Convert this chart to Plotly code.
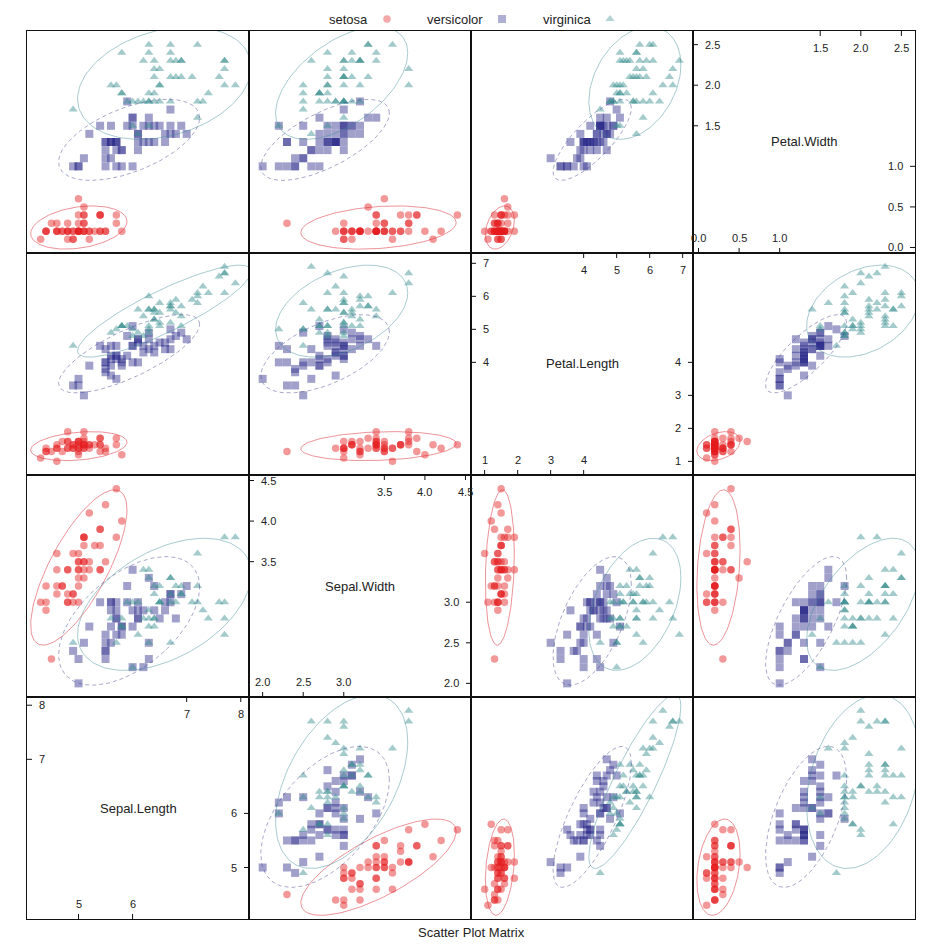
import numpy as np
import plotly.graph_objects as go

# ---------------- data (iris) ----------------
species_names = ["setosa", "versicolor", "virginica"]
species_counts = [50, 50, 50]

sepal_length = [5.1,4.9,4.7,4.6,5.0,5.4,4.6,5.0,4.4,4.9,5.4,4.8,4.8,4.3,5.8,5.7,5.4,5.1,5.7,5.1,
                5.4,5.1,4.6,5.1,4.8,5.0,5.0,5.2,5.2,4.7,4.8,5.4,5.2,5.5,4.9,5.0,5.5,4.9,4.4,5.1,
                5.0,4.5,4.4,5.0,5.1,4.8,5.1,4.6,5.3,5.0,
                7.0,6.4,6.9,5.5,6.5,5.7,6.3,4.9,6.6,5.2,5.0,5.9,6.0,6.1,5.6,6.7,5.6,5.8,6.2,5.6,
                5.9,6.1,6.3,6.1,6.4,6.6,6.8,6.7,6.0,5.7,5.5,5.5,5.8,6.0,5.4,6.0,6.7,6.3,5.6,5.5,
                5.5,6.1,5.8,5.0,5.6,5.7,5.7,6.2,5.1,5.7,
                6.3,5.8,7.1,6.3,6.5,7.6,4.9,7.3,6.7,7.2,6.5,6.4,6.8,5.7,5.8,6.4,6.5,7.7,7.7,6.0,
                6.9,5.6,7.7,6.3,6.7,7.2,6.2,6.1,6.4,7.2,7.4,7.9,6.4,6.3,6.1,7.7,6.3,6.4,6.0,6.9,
                6.7,6.9,5.8,6.8,6.7,6.7,6.3,6.5,6.2,5.9]
sepal_width = [3.5,3.0,3.2,3.1,3.6,3.9,3.4,3.4,2.9,3.1,3.7,3.4,3.0,3.0,4.0,4.4,3.9,3.5,3.8,3.8,
               3.4,3.7,3.6,3.3,3.4,3.0,3.4,3.5,3.4,3.2,3.1,3.4,4.1,4.2,3.1,3.2,3.5,3.6,3.0,3.4,
               3.5,2.3,3.2,3.5,3.8,3.0,3.8,3.2,3.7,3.3,
               3.2,3.2,3.1,2.3,2.8,2.8,3.3,2.4,2.9,2.7,2.0,3.0,2.2,2.9,2.9,3.1,3.0,2.7,2.2,2.5,
               3.2,2.8,2.5,2.8,2.9,3.0,2.8,3.0,2.9,2.6,2.4,2.4,2.7,2.7,3.0,3.4,3.1,2.3,3.0,2.5,
               2.6,3.0,2.6,2.3,2.7,3.0,2.9,2.9,2.5,2.8,
               3.3,2.7,3.0,2.9,3.0,3.0,2.5,2.9,2.5,3.6,3.2,2.7,3.0,2.5,2.8,3.2,3.0,3.8,2.6,2.2,
               3.2,2.8,2.8,2.7,3.3,3.2,2.8,3.0,2.8,3.0,2.8,3.8,2.8,2.8,2.6,3.0,3.4,3.1,3.0,3.1,
               3.1,3.1,2.7,3.2,3.3,3.0,2.5,3.0,3.4,3.0]
petal_length = [1.4,1.4,1.3,1.5,1.4,1.7,1.4,1.5,1.4,1.5,1.5,1.6,1.4,1.1,1.2,1.5,1.3,1.4,1.7,1.5,
                1.7,1.5,1.0,1.7,1.9,1.6,1.6,1.5,1.4,1.6,1.6,1.5,1.5,1.4,1.5,1.2,1.3,1.4,1.3,1.5,
                1.3,1.3,1.3,1.6,1.9,1.4,1.6,1.4,1.5,1.4,
                4.7,4.5,4.9,4.0,4.6,4.5,4.7,3.3,4.6,3.9,3.5,4.2,4.0,4.7,3.6,4.4,4.5,4.1,4.5,3.9,
                4.8,4.0,4.9,4.7,4.3,4.4,4.8,5.0,4.5,3.5,3.8,3.7,3.9,5.1,4.5,4.5,4.7,4.4,4.1,4.0,
                4.4,4.6,4.0,3.3,4.2,4.2,4.2,4.3,3.0,4.1,
                6.0,5.1,5.9,5.6,5.8,6.6,4.5,6.3,5.8,6.1,5.1,5.3,5.5,5.0,5.1,5.3,5.5,6.7,6.9,5.0,
                5.7,4.9,6.7,4.9,5.7,6.0,4.8,4.9,5.6,5.8,6.1,6.4,5.6,5.1,5.6,6.1,5.6,5.5,4.8,5.4,
                5.6,5.1,5.1,5.9,5.7,5.2,5.0,5.2,5.4,5.1]
petal_width = [0.2,0.2,0.2,0.2,0.2,0.4,0.3,0.2,0.2,0.1,0.2,0.2,0.1,0.1,0.2,0.4,0.4,0.3,0.3,0.3,
               0.2,0.4,0.2,0.5,0.2,0.2,0.4,0.2,0.2,0.2,0.2,0.4,0.1,0.2,0.2,0.2,0.2,0.1,0.2,0.2,
               0.3,0.3,0.2,0.6,0.4,0.3,0.2,0.2,0.2,0.2,
               1.4,1.5,1.5,1.3,1.5,1.3,1.6,1.0,1.3,1.4,1.0,1.5,1.0,1.4,1.3,1.4,1.5,1.0,1.5,1.1,
               1.8,1.3,1.5,1.2,1.3,1.4,1.4,1.7,1.5,1.0,1.1,1.0,1.2,1.6,1.5,1.6,1.5,1.3,1.3,1.3,
               1.2,1.4,1.2,1.0,1.3,1.2,1.3,1.3,1.1,1.3,
               2.5,1.9,2.1,1.8,2.2,2.1,1.7,1.8,1.8,2.5,2.0,1.9,2.1,2.0,2.4,2.3,1.8,2.2,2.3,1.5,
               2.3,2.0,2.0,1.8,2.1,1.8,1.8,1.8,2.1,1.6,1.9,2.0,2.2,1.5,1.4,2.3,2.4,1.8,1.8,2.1,
               2.4,2.3,1.9,2.3,2.5,2.3,1.9,2.0,2.3,1.8]

var_names = ["Sepal.Length", "Sepal.Width", "Petal.Length", "Petal.Width"]
lower_ticks = [[5, 6], [2.0, 2.5, 3.0], [1, 2, 3, 4], [0.0, 0.5, 1.0]]
upper_ticks = [[7, 8], [3.5, 4.0, 4.5], [4, 5, 6, 7], [1.5, 2.0, 2.5]]
lower_labels = [["5", "6"], ["2.0", "2.5", "3.0"], ["1", "2", "3", "4"], ["0.0", "0.5", "1.0"]]
upper_labels = [["7", "8"], ["3.5", "4.0", "4.5"], ["4", "5", "6", "7"], ["1.5", "2.0", "2.5"]]

# ---------------- styling ----------------
FONT = "Liberation Sans, Arial, sans-serif"
TXT = "#222222"
base_rgb = {"setosa": (228, 26, 28), "versicolor": (45, 45, 140), "virginica": (50, 140, 140)}
line_rgb = {"setosa": (220, 40, 50), "versicolor": (60, 60, 140), "virginica": (60, 140, 150)}
symbols = {"setosa": "circle", "versicolor": "square", "virginica": "triangle-up"}
msize = {"setosa": 7.5, "versicolor": 8, "virginica": 8}
line_alpha = {"setosa": 0.5, "versicolor": 0.45, "virginica": 0.45}
dashes = {"setosa": "solid", "versicolor": "4px,3px", "virginica": "solid"}
PT_ALPHA = 0.45

def rgba(c, a):
    return f"rgba({c[0]},{c[1]},{c[2]},{a})"

# page body adds an 8px offset; figure sized to fit inside the 935x948 window
OFF = 8
W, H = 935 - OFF, 948 - OFF
grid_left, grid_right, grid_top, grid_bottom = 27 - OFF, 915 - OFF, 31 - OFF, 919 - OFF
ML, MR, MT, MB = grid_left, W - grid_right, 0, H - grid_bottom
plot_h = H - MT - MB
htop = (grid_bottom - grid_top) / plot_h
PANEL_PX = 222.0

columns = [np.array(sepal_length), np.array(sepal_width), np.array(petal_length), np.array(petal_width)]
groups = []
start = 0
for n in species_counts:
    groups.append(slice(start, start + n))
    start += n

lims = []
for v in columns:
    lo, hi = float(v.min()), float(v.max())
    pad = 0.07 * (hi - lo)
    lims.append([lo - pad, hi + pad])

# ellipse radius: sqrt(2 * qf(0.95, 2, n-1)) (closed form for df1 = 2)
def ellipse_pts(x, y, level=0.95, seg=120):
    n = len(x)
    d = n - 1
    fq = (d / 2.0) * ((1 - level) ** (-2.0 / d) - 1)
    radius = np.sqrt(2 * fq)
    shape = np.cov(np.vstack([x, y]))
    ch = np.linalg.cholesky(shape).T
    ang = np.linspace(0, 2 * np.pi, seg + 1)
    uc = np.column_stack([np.cos(ang), np.sin(ang)])
    e = uc @ ch * radius
    return e[:, 0] + x.mean(), e[:, 1] + y.mean()

def ax_name(k):
    return "" if k == 1 else str(k)

fig = go.Figure()
layout_axes = {}
shapes = []
annotations = []

for r in range(4):
    for c in range(4):
        k = r * 4 + c + 1
        sfx = ax_name(k)
        layout_axes[f"xaxis{sfx}"] = dict(
            domain=[c / 4, (c + 1) / 4], anchor=f"y{sfx}", range=lims[c],
            showline=True, mirror=True, linecolor="#111111", linewidth=1,
            showticklabels=False, ticks="", showgrid=False, zeroline=False, fixedrange=True)
        layout_axes[f"yaxis{sfx}"] = dict(
            domain=[r * htop / 4, (r + 1) * htop / 4], anchor=f"x{sfx}", range=lims[r],
            showline=True, mirror=True, linecolor="#111111", linewidth=1,
            showticklabels=False, ticks="", showgrid=False, zeroline=False, fixedrange=True)
        if r == c:
            xr, yr = f"x{sfx}", f"y{sfx}"
            annotations.append(dict(x=0.5, y=0.5, xref=f"{xr} domain", yref=f"{yr} domain",
                                    text=var_names[r], showarrow=False,
                                    font=dict(family=FONT, size=13, color=TXT)))
            tl = 5 / PANEL_PX
            tfont = dict(family=FONT, size=11, color=TXT)
            for t, lab in zip(lower_ticks[r], lower_labels[r]):
                shapes.append(dict(type="line", xref=xr, yref=f"{yr} domain", x0=t, x1=t, y0=0, y1=tl,
                                   line=dict(color="#111111", width=1)))
                annotations.append(dict(x=t, y=0, xref=xr, yref=f"{yr} domain", text=lab, showarrow=False,
                                        yanchor="middle", yshift=15, font=tfont))
                shapes.append(dict(type="line", xref=f"{xr} domain", yref=yr, x0=1 - tl, x1=1, y0=t, y1=t,
                                   line=dict(color="#111111", width=1)))
                annotations.append(dict(x=1, y=t, xref=f"{xr} domain", yref=yr, text=lab, showarrow=False,
                                        xanchor="right", xshift=-10, font=tfont))
            for t, lab in zip(upper_ticks[r], upper_labels[r]):
                shapes.append(dict(type="line", xref=xr, yref=f"{yr} domain", x0=t, x1=t, y0=1 - tl, y1=1,
                                   line=dict(color="#111111", width=1)))
                annotations.append(dict(x=t, y=1, xref=xr, yref=f"{yr} domain", text=lab, showarrow=False,
                                        yanchor="middle", yshift=-17, font=tfont))
                shapes.append(dict(type="line", xref=f"{xr} domain", yref=yr, x0=0, x1=tl, y0=t, y1=t,
                                   line=dict(color="#111111", width=1)))
                annotations.append(dict(x=0, y=t, xref=f"{xr} domain", yref=yr, text=lab, showarrow=False,
                                        xanchor="left", xshift=10, font=tfont))
            continue
        xv, yv = columns[c], columns[r]
        for sp, g in zip(species_names, groups):
            fig.add_trace(go.Scatter(
                x=xv[g], y=yv[g], mode="markers", xaxis=f"x{sfx}", yaxis=f"y{sfx}",
                marker=dict(symbol=symbols[sp], size=msize[sp], color=rgba(base_rgb[sp], PT_ALPHA),
                            line=dict(width=0)),
                showlegend=False, hoverinfo="skip"))
        for sp, g in zip(species_names, groups):
            ex, ey = ellipse_pts(xv[g], yv[g])
            fig.add_trace(go.Scatter(
                x=ex, y=ey, mode="lines", xaxis=f"x{sfx}", yaxis=f"y{sfx}",
                line=dict(color=rgba(line_rgb[sp], line_alpha[sp]), width=1, dash=dashes[sp]),
                showlegend=False, hoverinfo="skip"))

# ---------------- legend (text before key, as in lattice) ----------------
legend_pos_px = [387, 502, 610]   # screen x of the keys
leg_x = [(p - 27) / 888 for p in legend_pos_px]
leg_y = (grid_top - (19 - OFF)) / grid_top
layout_axes["xaxis17"] = dict(domain=[0, 1], anchor="y17", range=[0, 1], visible=False, fixedrange=True)
layout_axes["yaxis17"] = dict(domain=[htop, 1], anchor="x17", range=[0, 1], visible=False, fixedrange=True)
for sp, lx in zip(species_names, leg_x):
    fig.add_trace(go.Scatter(
        x=[lx], y=[leg_y], mode="markers", xaxis="x17", yaxis="y17",
        marker=dict(symbol=symbols[sp], size=msize[sp], color=rgba(base_rgb[sp], 0.38), line=dict(width=0)),
        showlegend=False, hoverinfo="skip", cliponaxis=False))
    annotations.append(dict(x=lx, y=leg_y, xref="x17", yref="y17", text=sp, showarrow=False,
                            xanchor="right", xshift=-17, yanchor="middle",
                            font=dict(family=FONT, size=13, color=TXT)))

annotations.append(dict(x=0.5, y=0, xref="paper", yref="paper", text="Scatter Plot Matrix",
                        showarrow=False, yanchor="middle", yshift=-13,
                        font=dict(family=FONT, size=13, color=TXT)))

fig.update_layout(
    width=W, height=H, margin=dict(l=ML, r=MR, t=MT, b=MB),
    paper_bgcolor="white", plot_bgcolor="white", showlegend=False,
    shapes=shapes, annotations=annotations, **layout_axes)

fig.write_html("out.html")
